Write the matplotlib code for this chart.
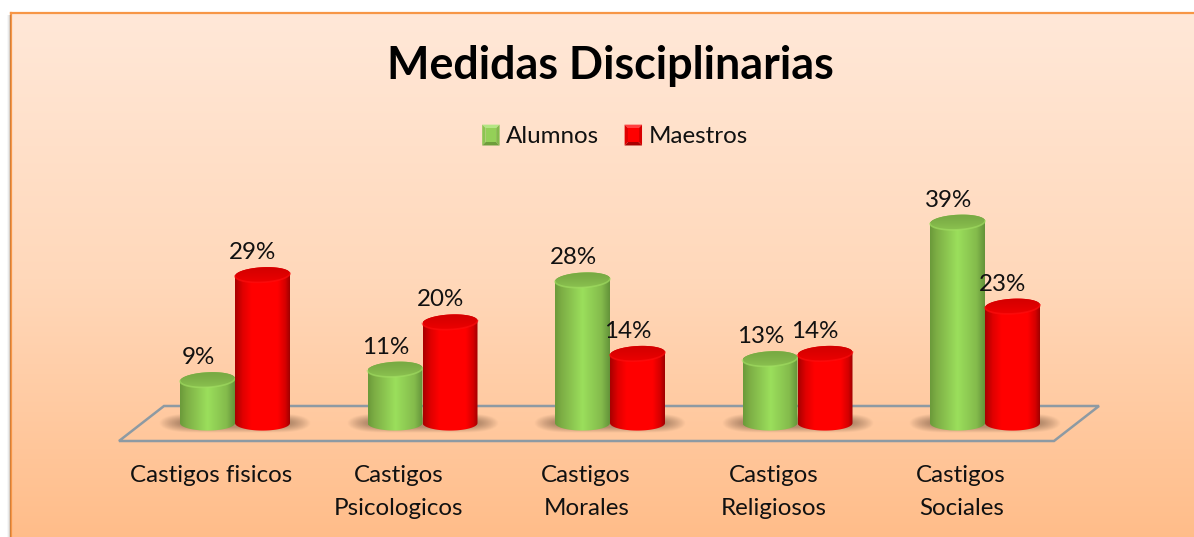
import numpy as np
import matplotlib
matplotlib.use("Agg")
import matplotlib.pyplot as plt
from matplotlib.colors import LinearSegmentedColormap
from matplotlib.legend_handler import HandlerBase
from matplotlib.patches import Patch, PathPatch, Polygon, Rectangle
from matplotlib.path import Path

categories = ["Castigos fisicos", "Castigos\nPsicologicos", "Castigos\nMorales",
              "Castigos\nReligiosos", "Castigos\nSociales"]
alumnos = [9, 11, 28, 13, 39]
maestros = [29, 20, 14, 14, 23]
title = "Medidas Disciplinarias"

W, H = 1194, 537
FONT = "Lato"
plt.rcParams["font.family"] = [FONT, "DejaVu Sans"]
fig = plt.figure(figsize=(W / 100, H / 100), dpi=100, facecolor="white")


def px_axes(x0, y0, x1, y1, **kw):
    return fig.add_axes([x0 / W, 1 - y1 / H, (x1 - x0) / W, (y1 - y0) / H], **kw)


# ---------- faint outer shadow at the left of the frame ----------
for x0, alpha in ((7, 0.03), (8, 0.05), (9, 0.07)):
    fig.add_artist(Rectangle((x0 / W, 0), (11 - x0) / W, 1 - 15 / H, transform=fig.transFigure,
                             fc="black", ec="none", alpha=alpha))

# ---------- chart-area background (runs past the right and bottom picture edges) ----------
bg = px_axes(11, 13, 1210, 545)
bg.set_axis_off()
bg_cmap = LinearSegmentedColormap.from_list("bg", ["#FFE8D8", "#FFD8BA", "#FFBC88"])
bg.imshow(np.linspace(0, 1, 256)[:, None], aspect="auto", cmap=bg_cmap,
          extent=(0, 1, 0, 1), origin="upper")
bg.set_xlim(0, 1)
bg.set_ylim(0, 1)
for xs, ys in (([0, 0], [0, 1]), ([0, 1], [1, 1])):
    bg.plot(xs, ys, color="#F79646", lw=1.6, clip_on=False, solid_capstyle="projecting")

# ---------- plot axes: x in category index, y in percent ----------
PX_PER_CAT = 187.5
PX_PER_PCT = 5.25
AX_L, AX_R, AX_T, AX_B = 119, 1099, 190, 441
ZERO_PX_X, ZERO_PX_Y = 235, 427
ax = px_axes(AX_L, AX_T, AX_R, AX_B)
ax.patch.set_alpha(0)
for s in ax.spines.values():
    s.set_visible(False)
xlim = ((AX_L - ZERO_PX_X) / PX_PER_CAT, (AX_R - ZERO_PX_X) / PX_PER_CAT)
ylim = ((ZERO_PX_Y - AX_B) / PX_PER_PCT, (ZERO_PX_Y - AX_T) / PX_PER_PCT)
ax.set_yticks([])

# tick labels sit left of the group centre, as in the reference
ax.set_xticks(np.arange(len(categories)) - 0.127)
ax.set_xticklabels(categories, fontsize=17.4, color="#111111", linespacing=1.7, va="top")
ax.tick_params(axis="x", length=0, pad=17)

# floor
dx = 45 / PX_PER_CAT
x_l, x_r = xlim
y_b, y_t = ylim[0], (ZERO_PX_Y - 406) / PX_PER_PCT
ax.add_patch(Polygon([(x_l, y_b), (x_l + dx, y_t), (x_r, y_t), (x_r - dx, y_b)], closed=True,
                     fill=False, ec="#8D9AA3", lw=1.8, clip_on=False, zorder=1))

BAR_W = 55 / PX_PER_CAT
RX = BAR_W / 2
RY = 7.5 / PX_PER_PCT
TILT = 0.05 * (PX_PER_CAT / PX_PER_PCT)   # percent per category unit, rising to the right
BASE = 0.75


def ell(xc, yc, t, tilt=True):
    x = xc + RX * np.cos(t)
    y = yc + RY * np.sin(t)
    if tilt:
        y = y + TILT * (x - xc)
    return x, y


def shadow(xc):
    ny, nx = 60, 240
    yy, xx = np.mgrid[-1:1:ny * 1j, -1:1:nx * 1j]
    a = np.clip((1 - np.sqrt(np.abs(xx) ** 6 + yy ** 2)) * 1.7, 0, 1) * 0.55
    img = np.zeros((ny, nx, 4))
    img[..., :3] = matplotlib.colors.to_rgb("#7C5A44")
    img[..., 3] = a
    w = 76 / PX_PER_CAT
    ax.imshow(img, aspect="auto", extent=(xc - w, xc + w, -1.1, 2.7), origin="lower",
              zorder=2, interpolation="bilinear")


def cylinder(xc, v, body_cmap, cap_cmap, rim, z):
    # silhouette
    t_top = np.linspace(0, np.pi, 50)
    tx, ty = ell(xc, v, t_top)
    t_bot = np.linspace(np.pi, 2 * np.pi, 50)
    bx, by = ell(xc, BASE, t_bot, tilt=False)
    verts = np.r_[np.c_[tx, ty], np.c_[bx, by], [[tx[0], ty[0]]]]
    clip = PathPatch(Path(verts), transform=ax.transData, fc="none", ec="none")
    ax.add_patch(clip)
    grad = np.linspace(0, 1, 200)[None, :]
    im = ax.imshow(grad, aspect="auto", cmap=body_cmap,
                   extent=(xc - RX, xc + RX, BASE - RY * 2, v + RY * 2.5), zorder=z,
                   interpolation="bilinear")
    im.set_clip_path(clip)
    # cap
    t = np.linspace(0, 2 * np.pi, 100)
    cx, cy = ell(xc, v, t)
    cap = PathPatch(Path(np.c_[cx, cy]), transform=ax.transData, fc="none", ec="none")
    ax.add_patch(cap)
    cim = ax.imshow(np.linspace(0, 1, 64)[:, None], aspect="auto", cmap=cap_cmap, origin="lower",
                    extent=(xc - RX, xc + RX, v - RY * 1.5, v + RY * 1.5), zorder=z + 0.1,
                    interpolation="bilinear")
    cim.set_clip_path(cap)
    tr = np.linspace(np.pi, 2 * np.pi, 50)
    rx_, ry_ = ell(xc, v, tr)
    ax.plot(rx_, ry_, color=rim, lw=1.2, alpha=0.6, zorder=z + 0.2, clip_on=False)


green_body = LinearSegmentedColormap.from_list("gb", [(0, "#6B9A3A"), (0.12, "#7DAE45"), (0.5, "#9BDF5C"),
                                                      (0.85, "#84BB4C"), (1, "#64933A")])
green_cap = LinearSegmentedColormap.from_list("gc", ["#8FC852", "#7FB248", "#72A340"])
red_body = LinearSegmentedColormap.from_list("rb", [(0, "#A80000"), (0.14, "#E00000"), (0.3, "#FF0000"),
                                                    (0.78, "#FF0000"), (0.92, "#D40000"), (1, "#A00000")])
red_cap = LinearSegmentedColormap.from_list("rc", ["#F40000", "#DE0000", "#CC0000"])

for i in range(len(categories)):
    shadow(i)
for i, (a, m) in enumerate(zip(alumnos, maestros)):
    xg, xr = i - BAR_W / 2, i + BAR_W / 2
    cylinder(xg, a, green_body, green_cap, "#A4E064", 3 + i)
    cylinder(xr, m, red_body, red_cap, "#FF1010", 3.5 + i)
    for x, v, off in ((xg, a, -9), (xr, m, -10)):
        ax.annotate(f"{v}%", xy=(x, v), xytext=(off * 0.72, 22 * 0.72), textcoords="offset points",
                    ha="center", va="center", fontsize=17.4, color="#111111", zorder=20,
                    annotation_clip=False)

ax.set_xlim(*xlim)
ax.set_ylim(*ylim)

# ---------- title ----------
fig.text(610 / W, 1 - 66 / H, title, ha="center", va="center", fontsize=32.3, fontweight="bold",
         color="black")


# ---------- legend ----------
class BevelHandler(HandlerBase):
    def __init__(self, top, left, right, bottom, centre):
        super().__init__()
        self.c = (top, left, right, bottom, centre)

    def create_artists(self, legend, orig, xd, yd, w, h, fontsize, trans):
        x0, y0 = -xd, -yd
        x1, y1 = x0 + w, y0 + h
        b = min(w, h) * 0.2
        top, left, right, bottom, centre = self.c
        ix0, iy0, ix1, iy1 = x0 + b, y0 + b, x1 - b, y1 - b
        polys = [
            ([(x0, y1), (x1, y1), (ix1, iy1), (ix0, iy1)], top),
            ([(x0, y0), (x0, y1), (ix0, iy1), (ix0, iy0)], left),
            ([(x1, y0), (x1, y1), (ix1, iy1), (ix1, iy0)], right),
            ([(x0, y0), (x1, y0), (ix1, iy0), (ix0, iy0)], bottom),
            ([(ix0, iy0), (ix1, iy0), (ix1, iy1), (ix0, iy1)], centre),
        ]
        return [Polygon(p, closed=True, fc=c, ec="none", transform=trans) for p, c in polys]


h_a = Patch(color="#8CC652", label="Alumnos")
h_m = Patch(color="#F00000", label="Maestros")
leg = fig.legend(handles=[h_a, h_m], loc="center", bbox_to_anchor=(615 / W, 1 - 136 / H),
                 frameon=False, ncol=2, fontsize=17.4, handlelength=0.72, handleheight=0.95,
                 handletextpad=0.27, columnspacing=1.05, labelcolor="#111111",
                 handler_map={
                     h_a: BevelHandler("#B4E684", "#8CC452", "#84BA4C", "#6E9E3C", "#94D058"),
                     h_m: BevelHandler("#FF4040", "#E00000", "#D80000", "#A80000", "#FF0000"),
                 })

fig.savefig("out.png", dpi=100, facecolor="white")
